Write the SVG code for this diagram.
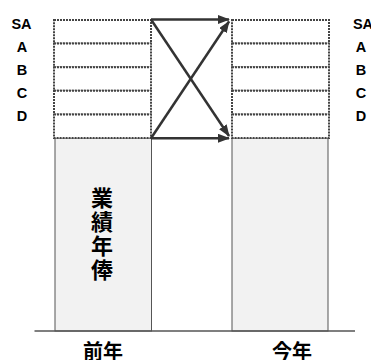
<svg xmlns="http://www.w3.org/2000/svg" width="371" height="360" viewBox="0 0 371 360">
<style>
.col{fill:#f2f2f2;stroke:#555;stroke-width:1}
.row{fill:#fff;stroke:#444;stroke-width:2;stroke-dasharray:2 1}
.lbl{font-family:"Liberation Sans",Arial,sans-serif;font-weight:bold;font-size:14.5px;fill:#000;text-anchor:middle}
.cjk{font-family:"Noto Sans CJK JP","Noto Sans CJK SC",sans-serif;font-weight:bold;fill:#000;text-anchor:middle}
.arr{stroke:#333;stroke-width:2.5;fill:none;marker-end:url(#ah)}
</style>
<defs>
<marker id="ah" markerWidth="12" markerHeight="9" refX="11" refY="4.5" orient="auto" markerUnits="userSpaceOnUse">
<path d="M0,0 L12,4.5 L0,9 Z" fill="#333"/>
</marker>
</defs>
<rect width="371" height="360" fill="#fff"/>
<g id="prev">
<rect class="col" x="55" y="138" width="96.5" height="193"/>
<rect class="row" x="54" y="20" width="97" height="23.6"/>
<rect class="row" x="54" y="43.6" width="97" height="23.6"/>
<rect class="row" x="54" y="67.2" width="97" height="23.6"/>
<rect class="row" x="54" y="90.8" width="97" height="23.6"/>
<rect class="row" x="54" y="114.4" width="97" height="23.6"/>
<text class="cjk" font-size="22" x="102" y="206">業</text>
<text class="cjk" font-size="22" x="102" y="230">績</text>
<text class="cjk" font-size="22" x="102" y="254">年</text>
<text class="cjk" font-size="22" x="102" y="278">俸</text>
</g>
<g id="curr">
<rect class="col" x="232" y="138" width="96" height="193"/>
<rect class="row" x="232" y="20" width="97" height="23.6"/>
<rect class="row" x="232" y="43.6" width="97" height="23.6"/>
<rect class="row" x="232" y="67.2" width="97" height="23.6"/>
<rect class="row" x="232" y="90.8" width="97" height="23.6"/>
<rect class="row" x="232" y="114.4" width="97" height="23.6"/>
</g>
<g id="labels-left">
<text class="lbl" x="21.5" y="28.5">SA</text>
<text class="lbl" x="22" y="52">A</text>
<text class="lbl" x="22" y="74.5">B</text>
<text class="lbl" x="22" y="97.5">C</text>
<text class="lbl" x="22" y="120.5">D</text>
</g>
<g id="labels-right">
<text class="lbl" x="363" y="28.5">SA</text>
<text class="lbl" x="361" y="52">A</text>
<text class="lbl" x="361" y="74.5">B</text>
<text class="lbl" x="361" y="97.5">C</text>
<text class="lbl" x="361" y="120.5">D</text>
</g>
<g id="axis">
<line x1="34.5" y1="331" x2="355" y2="331" stroke="#555" stroke-width="1.3"/>
<text class="cjk" font-size="20" x="103" y="359">前年</text>
<text class="cjk" font-size="20" x="292" y="359">今年</text>
</g>
<g id="connectors">
<line class="arr" x1="151" y1="19.5" x2="229" y2="19.5"/>
<line class="arr" x1="151" y1="138.3" x2="229" y2="138.3"/>
<line class="arr" x1="151" y1="19.5" x2="229" y2="136"/>
<line class="arr" x1="151" y1="138.3" x2="229" y2="21.5"/>
</g>
</svg>
